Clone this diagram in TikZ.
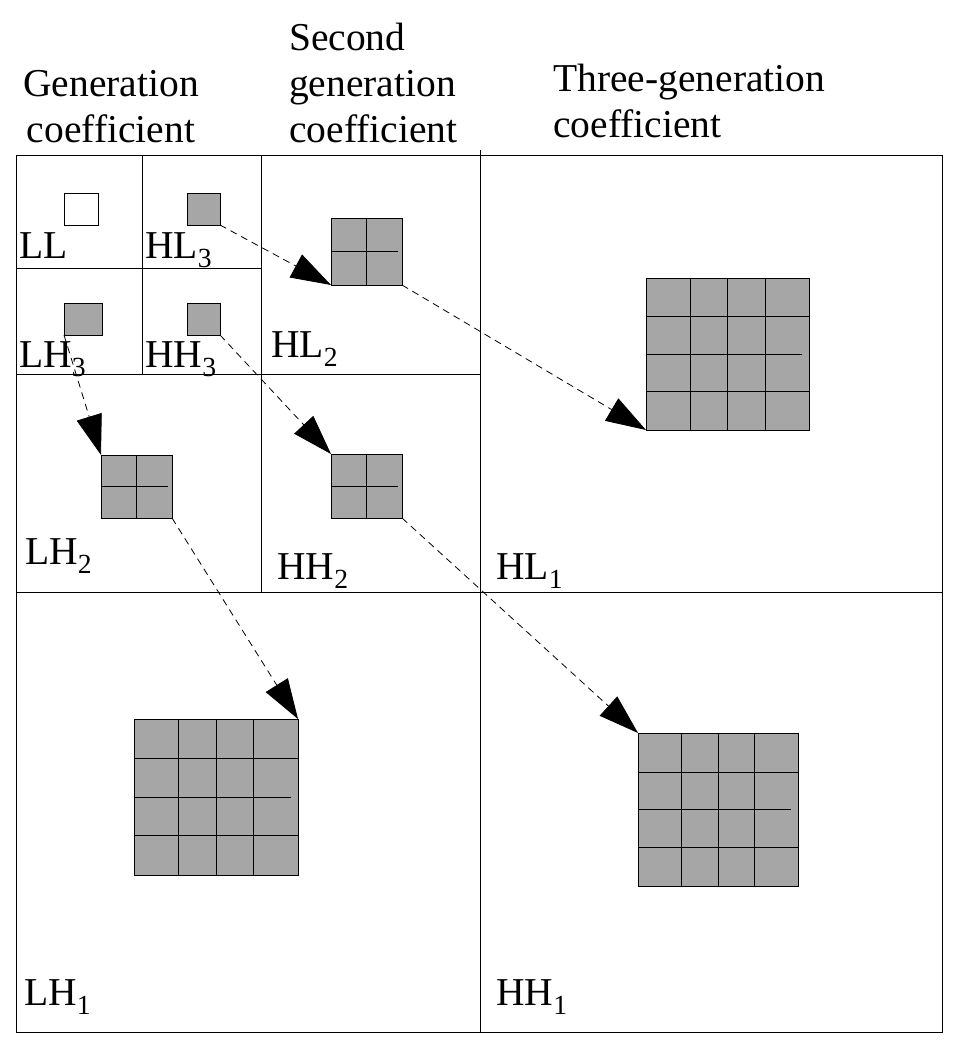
\documentclass[tikz,border=0pt]{standalone}
\usepackage{fontspec}
\setmainfont{Liberation Serif}
\usetikzlibrary{arrows.meta,calc}

\definecolor{cellgrey}{RGB}{166,166,166}

\tikzset{
	panel/.style={line width=1pt},
	coef/.style={draw, fill=cellgrey, line width=0.9pt, inner sep=0pt, outer sep=0pt},
	band/.style={anchor=base west, inner sep=0pt, font=\fontsize{39.5}{46}\selectfont},
	heading/.style={inner sep=0pt, font=\fontsize{39.5}{46}\selectfont},
	link/.style={dash pattern=on 7pt off 5pt, line width=0.8pt, -{Triangle[length=40pt,width=26pt]}},
}

\begin{document}
\begin{tikzpicture}[x=1pt, y=-1pt]
	\useasboundingbox (0,0) rectangle (954,1044);

	%% HEADINGS (anchored at the last line)
	\node[heading, align=center, anchor=base](head_one) at (111,142){Generation\\coefficient};
	\node[heading, align=left, anchor=base west](head_two) at (289,142){Second\\generation\\coefficient};
	\node[heading, align=left, anchor=base west](head_three) at (553,137){Three-generation\\coefficient};

	%% SUBBAND FRAME
	\draw[panel] (16,155) rectangle (942,1032);
	\draw[panel] (480,150) -- (480,1032);
	\draw[panel] (16,592) -- (942,592);
	\draw[panel] (261,155) -- (261,592);
	\draw[panel] (16,374) -- (480,374);
	\draw[panel] (142,155) -- (142,374);
	\draw[panel] (16,268) -- (261,268);

	% band names
	\node[band](name_ll) at (19,258){LL};
	\node[band](name_hl3) at (145,258){HL\textsubscript{3}};
	\node[band](name_lh3) at (19,367){LH\textsubscript{3}};
	\node[band](name_hh3) at (145,367){HH\textsubscript{3}};
	\node[band](name_hl2) at (271,357){HL\textsubscript{2}};
	\node[band](name_lh2) at (25,564){LH\textsubscript{2}};
	\node[band](name_hh2) at (277,579){HH\textsubscript{2}};
	\node[band](name_hl1) at (496,579){HL\textsubscript{1}};
	\node[band](name_lh1) at (24,1005){LH\textsubscript{1}};
	\node[band](name_hh1) at (496,1005){HH\textsubscript{1}};

	%% THIRD LEVEL (single coefficients)
	\node[coef, fill=white, minimum width=34pt, minimum height=32pt](ll) at (81,209){};
	\node[coef, minimum width=33pt, minimum height=32pt](hl3) at (203.5,209){};
	\node[coef, minimum width=38pt, minimum height=32pt](lh3) at (83,319){};
	\node[coef, minimum width=33pt, minimum height=32pt](hh3) at (203.5,319){};

	%% SECOND LEVEL (2x2 children)
	\node[coef, minimum width=71pt, minimum height=67pt](hl2) at (366.5,251.5){};
	\node[coef, minimum width=71pt, minimum height=63pt](lh2) at (136.5,486.5){};
	\node[coef, minimum width=71pt, minimum height=64pt](hh2) at (366.5,486){};

	\foreach \g in {hl2,lh2,hh2}{
		\draw[line width=0.9pt] (\g.north) -- (\g.south);
		\draw[line width=0.9pt] (\g.west) -- ($(\g.west)!0.944!(\g.east)$);
	}

	%% FIRST LEVEL (4x4 children)
	\node[coef, minimum width=163pt, minimum height=152pt](hl1) at (727.5,354){};
	\node[coef, minimum width=164pt, minimum height=156pt](lh1) at (216,797){};
	\node[coef, minimum width=160pt, minimum height=153pt](hh1) at (718,809.5){};

	\foreach \g in {hl1,lh1,hh1}{
		\foreach \f in {0.27,0.5,0.73}
			\draw[line width=0.9pt] ($(\g.north west)!\f!(\g.north east)$) -- ($(\g.south west)!\f!(\g.south east)$);
		\foreach \f in {0.255,0.745}
			\draw[line width=0.9pt] ($(\g.north west)!\f!(\g.south west)$) -- ($(\g.north east)!\f!(\g.south east)$);
		\draw[line width=0.9pt] (\g.west) -- ($(\g.west)!0.957!(\g.east)$);
	}

	%% PARENT-CHILD LINKS
	\draw[link] (hl3.south east) -- (hl2.south west);
	\draw[link] (hl2.south east) -- (hl1.south west);
	\draw[link] (lh3.south west) -- (lh2.north west);
	\draw[link] (hh3.south east) -- (hh2.north west);
	\draw[link] (lh2.south east) -- (lh1.north east);
	\draw[link] (hh2.south east) -- (hh1.north west);

\end{tikzpicture}
\end{document}
